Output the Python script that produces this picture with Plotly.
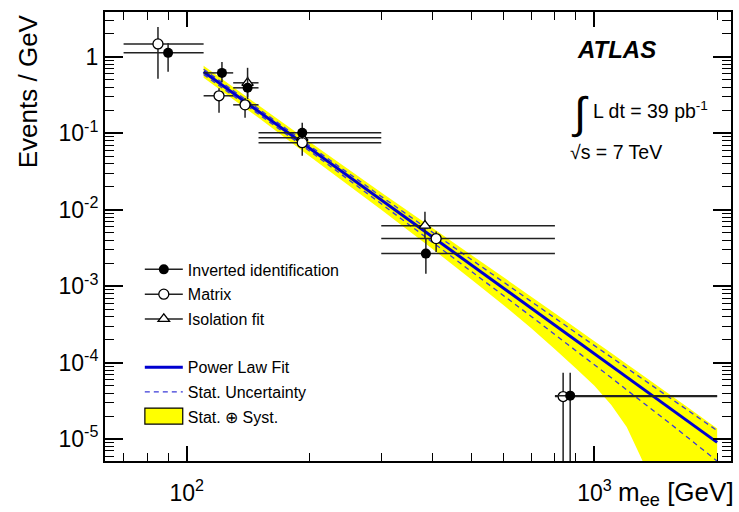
import plotly.graph_objects as go

# ---------------- data ----------------
# Inverted identification (filled circles)
inv_x = [90, 122, 141, 192, 386, 872]
inv_xlo = [70, 110, 130, 150, 300, 800]
inv_xhi = [110, 130, 150, 300, 800, 2000]
inv_y = [1.13, 0.618, 0.394, 0.102, 0.00267, 3.7e-5]
inv_yhi = [1.52, 0.86, 0.55, 0.138, 0.0042, 7.4e-5]
inv_ylo = [0.637, 0.47, 0.28, 0.085, 0.00146, 1e-7]

# Matrix (open circles)
mat_x = [85, 120, 139, 192, 409, 838]
mat_xlo = [70, 110, 130, 150, 300, 800]
mat_xhi = [110, 130, 150, 300, 800, 2000]
mat_y = [1.48, 0.31, 0.236, 0.0755, 0.0042, 3.6e-5]
mat_yhi = [2.46, 0.39, 0.29, 0.095, 0.0052, 7.4e-5]
mat_ylo = [0.516, 0.186, 0.16, 0.051, 0.0028, 1e-7]

# Isolation fit (open triangles)
iso_x = [141, 192, 384]
iso_xlo = [130, 150, 300]
iso_xhi = [150, 300, 800]
iso_y = [0.458, 0.0876, 0.0062]
iso_yhi = [0.72, 0.11, 0.0094]
iso_ylo = [0.30, 0.07, 0.0042]

# Power law fit and uncertainty bands
fit_x = [110, 150, 200, 300, 400, 500, 600, 700, 800, 900, 1000, 1100, 1200, 1300, 1500, 1700, 2000]
fit_y = [0.64, 0.194, 0.064, 0.01345, 0.004442, 0.00188, 9.32e-4, 5.15e-4, 3.08e-4, 1.958e-4,
         1.305e-4, 9.04e-5, 6.47e-5, 4.75e-5, 2.74e-5, 1.69e-5, 9.05e-6]
stat_hi = [0.691, 0.2076, 0.0691, 0.01493, 0.005064, 0.0022, 0.001118, 6.28e-4, 3.82e-4, 2.467e-4,
           1.670e-4, 1.175e-4, 8.54e-5, 6.32e-5, 3.73e-5, 2.35e-5, 1.29e-5]
stat_lo = [0.589, 0.1804, 0.0589, 0.01197, 0.00382, 0.00156, 7.46e-4, 4.02e-4, 2.34e-4, 1.449e-4,
           9.40e-5, 6.33e-5, 4.40e-5, 3.18e-5, 1.75e-5, 1.03e-5, 5.16e-6]
syst_hi = [0.767, 0.2324, 0.0778, 0.01685, 0.005823, 0.00254, 1.297e-3, 7.28e-4, 4.42e-4, 2.835e-4,
           1.907e-4, 1.333e-4, 9.59e-5, 7.09e-5, 4.12e-5, 2.56e-5, 1.378e-5]
syst_lo = [0.534, 0.1595, 0.0503, 0.00997, 0.003096, 0.001216, 5.59e-4, 2.82e-4, 1.50e-4, 8.44e-5,
           4.99e-5, 2.80e-5, 1.44e-5, 5.8e-6, 1e-6, 1e-7, 1e-8]

x_tickvals = [100, 1000]
x_ticktext = ["10<sup>2</sup>", "10<sup>3</sup>"]
y_tickvals = [1e-5, 1e-4, 1e-3, 1e-2, 1e-1, 1]
y_ticktext = ["10<sup>-5</sup>", "10<sup>-4</sup>", "10<sup>-3</sup>", "10<sup>-2</sup>", "10<sup>-1</sup>", "1"]

FONT = "Liberation Sans, Arial, Helvetica, sans-serif"
BAR = "#222222"
BLUE = "#0000d0"
DASH = "#3a3ad8"
YEL = "#ffff00"

fig = go.Figure()

# Stat (+) Syst band
fig.add_trace(go.Scatter(
    x=fit_x + fit_x[::-1], y=syst_hi + syst_lo[::-1], mode="none", fill="toself",
    fillcolor=YEL, showlegend=False, hoverinfo="skip"))
# Stat uncertainty
for arr in (stat_hi, stat_lo):
    fig.add_trace(go.Scatter(x=fit_x, y=arr, mode="lines", showlegend=False,
                             line=dict(color=DASH, width=1.3, dash="5px,4px")))
# Power law fit
fig.add_trace(go.Scatter(x=fit_x, y=fit_y, mode="lines", showlegend=False,
                         line=dict(color=BLUE, width=3)))


def errs(x, xlo, xhi, y, ylo, yhi):
    ex = dict(type="data", symmetric=False, array=[h - v for h, v in zip(xhi, x)],
              arrayminus=[v - l for v, l in zip(x, xlo)], color=BAR, thickness=1.5, width=0)
    ey = dict(type="data", symmetric=False, array=[h - v for h, v in zip(yhi, y)],
              arrayminus=[v - l for v, l in zip(y, ylo)], color=BAR, thickness=1.5, width=0)
    return ex, ey


ex, ey = errs(iso_x, iso_xlo, iso_xhi, iso_y, iso_ylo, iso_yhi)
fig.add_trace(go.Scatter(x=iso_x, y=iso_y, mode="markers", error_x=ex, error_y=ey, showlegend=False,
                         marker=dict(symbol="triangle-up", size=10, color="white",
                                     line=dict(color="black", width=1.3))))
ex, ey = errs(mat_x, mat_xlo, mat_xhi, mat_y, mat_ylo, mat_yhi)
fig.add_trace(go.Scatter(x=mat_x, y=mat_y, mode="markers", error_x=ex, error_y=ey, showlegend=False,
                         marker=dict(symbol="circle", size=10, color="white",
                                     line=dict(color="black", width=1.3))))
ex, ey = errs(inv_x, inv_xlo, inv_xhi, inv_y, inv_ylo, inv_yhi)
fig.add_trace(go.Scatter(x=inv_x, y=inv_y, mode="markers", error_x=ex, error_y=ey, showlegend=False,
                         marker=dict(symbol="circle", size=10, color="black")))

# legend entries
fig.add_trace(go.Scatter(x=[None], y=[None], mode="lines+markers", name="Inverted identification",
                         legend="legend", legendgroup="a",
                         line=dict(color=BAR, width=1.5), marker=dict(symbol="circle", size=10, color="black")))
fig.add_trace(go.Scatter(x=[None], y=[None], mode="lines+markers", name="Matrix",
                         legend="legend", legendgroup="b",
                         line=dict(color=BAR, width=1.5),
                         marker=dict(symbol="circle", size=10, color="white", line=dict(color="black", width=1.3))))
fig.add_trace(go.Scatter(x=[None], y=[None], mode="lines+markers", name="Isolation fit",
                         legend="legend", legendgroup="c",
                         line=dict(color=BAR, width=1.5),
                         marker=dict(symbol="triangle-up", size=10, color="white", line=dict(color="black", width=1.3))))
fig.add_trace(go.Scatter(x=[None], y=[None], mode="lines", name="Power Law Fit",
                         legend="legend2", legendgroup="d", line=dict(color=BLUE, width=3)))
fig.add_trace(go.Scatter(x=[None], y=[None], mode="lines", name="Stat. Uncertainty",
                         legend="legend2", legendgroup="e",
                         line=dict(color=DASH, width=1.3, dash="5px,4px")))
fig.add_trace(go.Scatter(x=[None], y=[None], mode="lines", name="Stat. \u2295 Syst.",
                         legend="legend2", legendgroup="f",
                         line=dict(color="rgba(0,0,0,0)", width=0)))

axis_common = dict(showline=True, linecolor="black", linewidth=2, mirror="allticks",
                   ticks="inside", tickcolor="black", tickwidth=1.5, showgrid=False, zeroline=False,
                   tickfont=dict(family=FONT, size=23, color="black"))

fig.update_layout(
    width=739, height=512,
    margin=dict(l=105, r=6, t=12, b=50),
    paper_bgcolor="white", plot_bgcolor="white",
    font=dict(family=FONT, color="black"),
    xaxis=dict(type="log", range=[1.7995, 3.335], tickvals=x_tickvals, ticktext=x_ticktext,
               ticklen=15, ticklabelstandoff=10,
               minor=dict(ticks="inside", ticklen=8, tickcolor="black", tickwidth=1,
                          tickvals=[70, 80, 90, 200, 300, 400, 500, 600, 700, 800, 900, 2000]),
               **axis_common),
    yaxis=dict(type="log", range=[-5.287, 0.5875], tickvals=y_tickvals, ticktext=y_ticktext,
               ticklen=18,
               minor=dict(ticks="inside", ticklen=9, tickcolor="black", tickwidth=1,
                          tickvals=[m * 10 ** e for e in range(-6, 1) for m in range(2, 10)]),
               **axis_common),
    legend=dict(x=0.0556, y=0.4645, xanchor="left", yanchor="top", bgcolor="rgba(0,0,0,0)",
                font=dict(family=FONT, size=16, color="black"), itemwidth=38,
                tracegroupgap=1, traceorder="grouped"),
    legend2=dict(x=0.0556, y=0.2467, xanchor="left", yanchor="top", bgcolor="rgba(0,0,0,0)",
                 font=dict(family=FONT, size=16, color="black"), itemwidth=38,
                 tracegroupgap=1, traceorder="grouped"),
    showlegend=True,
)

# legend box symbol for the Stat. (+) Syst. entry
fig.add_shape(type="rect", xref="paper", yref="paper", x0=0.0637, x1=0.1242, y0=0.0822, y1=0.1178,
              fillcolor=YEL, line=dict(color="black", width=1.2), layer="above")

ann_font = dict(family=FONT, color="black")
fig.add_annotation(xref="paper", yref="paper", x=0.75, y=0.9167, xanchor="left", yanchor="middle",
                   text="<b><i>ATLAS</i></b>", showarrow=False, font=dict(size=24, **ann_font))
fig.add_annotation(xref="paper", yref="paper", x=0.742, y=0.7756, xanchor="left", yanchor="middle",
                   text="\u222b", showarrow=False, font=dict(size=44, **ann_font))
fig.add_annotation(xref="paper", yref="paper", x=0.777, y=0.782, xanchor="left", yanchor="middle",
                   text="L dt = 39 pb<sup>-1</sup>", showarrow=False, font=dict(size=19.5, **ann_font))
fig.add_annotation(xref="paper", yref="paper", x=0.7404, y=0.689, xanchor="left", yanchor="middle",
                   text="\u221as = 7 TeV", showarrow=False, font=dict(size=19.5, **ann_font))
fig.add_annotation(xref="paper", yref="paper", x=-0.1226, y=1.0, xanchor="center", yanchor="top",
                   text="Events / GeV", textangle=-90, showarrow=False, font=dict(size=26, **ann_font))
fig.add_annotation(xref="paper", yref="paper", x=1.008, y=-0.0733, xanchor="right", yanchor="middle",
                   text="m<sub>ee</sub> [GeV]", showarrow=False, font=dict(size=26, **ann_font))

fig.write_html("out.html")
